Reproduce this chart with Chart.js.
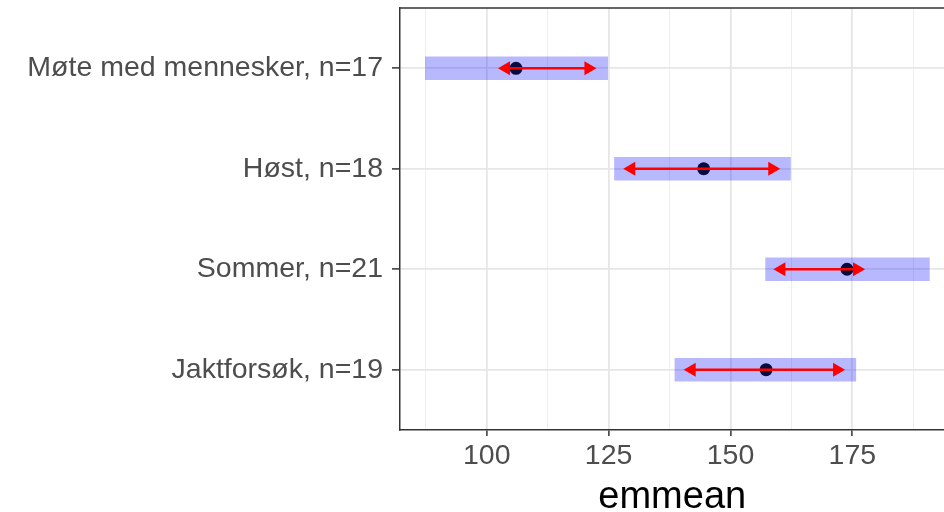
<!DOCTYPE html>
<html>
<head>
<meta charset="utf-8">
<script src="https://cdn.jsdelivr.net/npm/chart.js@4.4.1/dist/chart.umd.min.js"></script>
<style>
  html, body { margin: 0; padding: 0; background: #fff; overflow: hidden; }
  #wrap { width: 951px; height: 512px; position: relative; }
</style>
</head>
<body>
<div id="wrap"><canvas id="emmChart"></canvas></div>
<script>
// group labels (top to bottom)
const categories = ['Møte med mennesker, n=17', 'Høst, n=18', 'Sommer, n=21', 'Jaktforsøk, n=19'];
// estimated marginal means
const emmeans = [106.0, 144.5, 173.9, 157.3];
// confidence interval bounds
const ciLow = [87.4, 126.2, 157.2, 138.6];
const ciHigh = [124.8, 162.3, 190.8, 175.7];
// comparison arrow end points
const arrowLow = [102.3, 128.0, 158.8, 140.4];
const arrowHigh = [122.5, 160.2, 177.6, 173.5];
// x axis ticks
const majorTicks = [100, 125, 150, 175];
const minorTicks = [87.5, 112.5, 137.5, 162.5, 187.5];

const xMin = 82.2, xMax = 193.9;
const labelFont = { family: "'Liberation Sans', Arial, sans-serif", size: 28.5 };

// arrows + top panel border
const arrowPlugin = {
    id: 'arrows',
    afterDatasetsDraw(chart) {
        const ctx = chart.ctx;
        const xs = chart.scales.x, ys = chart.scales.y;
        const head = 12, half = 7;
        ctx.save();
        ctx.fillStyle = '#ff0000';
        ctx.strokeStyle = '#ff0000';
        ctx.lineWidth = 2.6;
        arrowLow.forEach((lo, i) => {
            const x1 = xs.getPixelForValue(lo);
            const x2 = xs.getPixelForValue(arrowHigh[i]);
            const y = ys.getPixelForValue(i);
            ctx.beginPath();
            ctx.moveTo(x1 + head - 1, y);
            ctx.lineTo(x2 - head + 1, y);
            ctx.stroke();
            ctx.beginPath();
            ctx.moveTo(x1, y);
            ctx.lineTo(x1 + head, y - half);
            ctx.lineTo(x1 + head, y + half);
            ctx.closePath();
            ctx.fill();
            ctx.beginPath();
            ctx.moveTo(x2, y);
            ctx.lineTo(x2 - head, y - half);
            ctx.lineTo(x2 - head, y + half);
            ctx.closePath();
            ctx.fill();
        });
        const a = chart.chartArea;
        ctx.strokeStyle = '#333333';
        ctx.lineWidth = 1.5;
        ctx.beginPath();
        ctx.moveTo(a.left, a.top);
        ctx.lineTo(a.right + 8, a.top);
        ctx.stroke();
        ctx.restore();
    }
};

const isMajor = (c) => !!(c && c.tick && majorTicks.includes(c.tick.value));

const ctx = document.getElementById('emmChart').getContext('2d');
new Chart(ctx, {
    type: 'bar',
    data: {
        datasets: [{
            type: 'bar',
            indexAxis: 'y',
            data: categories.map((c, i) => ({ x: [ciLow[i], ciHigh[i]], y: i })),
            backgroundColor: 'rgba(0, 0, 255, 0.28)',
            borderWidth: 0,
            barThickness: 23,
            order: 2
        }, {
            type: 'scatter',
            data: categories.map((c, i) => ({ x: emmeans[i], y: i })),
            pointRadius: 6.5,
            pointBackgroundColor: '#0a0a3c',
            pointBorderColor: '#0a0a3c',
            pointBorderWidth: 0,
            order: 1
        }]
    },
    options: {
        indexAxis: 'y',
        responsive: true,
        maintainAspectRatio: false,
        devicePixelRatio: 1,
        animation: false,
        layout: { padding: { top: 8, left: 0, right: 0, bottom: 0 } },
        plugins: { legend: { display: false }, tooltip: { enabled: false } },
        scales: {
            x: {
                type: 'linear',
                position: 'bottom',
                offset: false,
                beginAtZero: false,
                min: xMin,
                max: xMax,
                afterBuildTicks: (axis) => {
                    axis.ticks = [...minorTicks, ...majorTicks].sort((a, b) => a - b).map(v => ({ value: v }));
                },
                afterFit: (axis) => {
                    axis.height = 82;
                    axis.paddingLeft = 0;
                    axis.paddingRight = 0;
                },
                ticks: {
                    autoSkip: false,
                    maxRotation: 0,
                    padding: 3,
                    color: '#4d4d4d',
                    font: labelFont,
                    callback: (v) => majorTicks.includes(v) ? String(v) : ''
                },
                grid: {
                    offset: false,
                    color: (c) => isMajor(c) ? '#e6e6e6' : '#eeeeee',
                    lineWidth: (c) => isMajor(c) ? 1.8 : 1,
                    tickColor: (c) => isMajor(c) ? '#333333' : 'rgba(0,0,0,0)',
                    tickWidth: 1.5,
                    tickLength: 6
                },
                border: { display: true, color: '#333333', width: 1.5 },
                title: {
                    display: true,
                    text: 'emmean',
                    color: '#000000',
                    font: { family: "'Liberation Sans', Arial, sans-serif", size: 38, lineHeight: 0.75 },
                    padding: 0
                }
            },
            y: {
                type: 'linear',
                position: 'left',
                offset: false,
                beginAtZero: false,
                reverse: true,
                min: -0.6,
                max: 3.6,
                afterBuildTicks: (axis) => {
                    axis.ticks = categories.map((c, i) => ({ value: i }));
                },
                afterFit: (axis) => {
                    axis.width = 400;
                    axis.paddingTop = 0;
                    axis.paddingBottom = 0;
                },
                ticks: {
                    autoSkip: false,
                    padding: 9,
                    color: '#4d4d4d',
                    font: labelFont,
                    callback: (v) => categories[v]
                },
                grid: {
                    offset: false,
                    color: '#e6e6e6',
                    lineWidth: 1.8,
                    tickColor: '#333333',
                    tickWidth: 1.5,
                    tickLength: 8
                },
                border: { display: true, color: '#333333', width: 1.5 }
            }
        }
    },
    plugins: [arrowPlugin]
});
</script>
</body>
</html>
